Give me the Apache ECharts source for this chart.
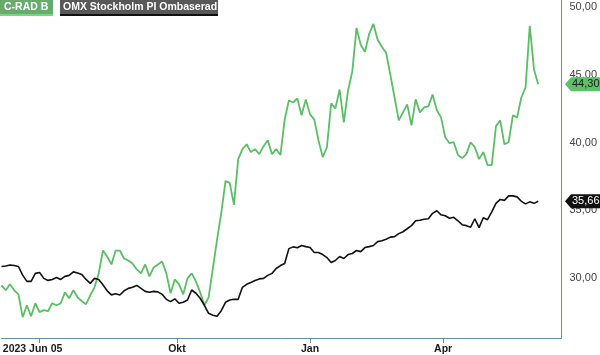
<!DOCTYPE html>
<html>
<head>
<meta charset="utf-8">
<script src="https://cdn.jsdelivr.net/npm/echarts@6/dist/echarts.min.js"></script>
<style>
html, body { margin: 0; padding: 0; background: #fff; }
#chart { width: 600px; height: 355px; }
</style>
</head>
<body>
<div id="chart"></div>
<script>
// trading days from the first date, Stockholm exchange closed days skipped
const startDate = '2023-06-05';
const dayCount = 266;
const holidays = ['2023-06-06', '2023-06-23', '2023-12-25', '2023-12-26', '2024-01-01',
    '2024-03-29', '2024-04-01', '2024-05-01', '2024-05-09', '2024-06-06', '2024-06-21'];

const tickDates = ['2023-07-03', '2023-10-02', '2024-01-02', '2024-04-02'];
const tickLabels = ['2023 Jun 05', 'Okt', 'Jan', 'Apr'];
const yTicks = [30, 35, 40, 45, 50];

// one value every second trading day
const sampleStep = 2;
const cradValues = [
    29.43, 29.07, 29.51, 29.07, 28.77, 27.08, 27.96, 27.15, 28.11, 27.45,
    27.60, 27.52, 28.11, 27.96, 28.11, 28.92, 28.48, 29.07, 28.55, 28.26,
    28.04, 28.70, 29.29, 30.32, 32.01, 31.57, 30.98, 32.01, 32.01, 31.42,
    31.27, 31.05, 30.61, 30.32, 30.98, 30.10, 30.76, 30.98, 31.20, 30.32,
    28.85, 29.87, 29.51, 28.77, 29.95, 30.32, 29.73, 28.92, 27.96, 28.55,
    30.68, 32.82, 34.80, 37.15, 37.01, 35.39, 38.77, 39.51, 39.87, 39.29,
    39.51, 39.14, 39.73, 40.17, 39.14, 39.51, 39.07, 41.71, 43.11, 42.96,
    43.26, 42.01, 43.19, 42.08, 41.71, 40.17, 38.92, 39.65, 42.89, 42.52,
    43.92, 41.49, 43.85, 45.24, 48.48, 47.23, 46.71, 48.04, 48.77, 47.60,
    47.08, 46.64, 45.02, 43.33, 41.64, 42.23, 42.82, 41.27, 43.19, 42.23,
    42.60, 42.67, 43.55, 42.38, 41.86, 40.39, 39.95, 40.02, 39.07, 38.85,
    39.14, 40.02, 39.65, 38.77, 39.29, 38.33, 38.33, 41.20, 41.64, 39.87,
    40.02, 42.01, 41.86, 43.33, 44.07, 48.63, 45.39, 44.30
];
const omxValues = [
    30.83, 30.87, 30.94, 30.90, 30.83, 30.19, 29.73, 29.73, 30.32, 30.39,
    29.95, 29.80, 29.87, 30.02, 29.87, 30.10, 30.17, 30.43, 30.35, 30.24,
    29.87, 29.58, 29.95, 29.87, 29.47, 29.03, 28.73, 28.81, 28.72, 29.03,
    29.21, 29.29, 29.43, 29.21, 28.99, 28.92, 28.99, 28.95, 28.77, 28.40,
    28.23, 28.44, 28.11, 28.18, 28.35, 29.09, 28.85, 28.48, 27.96, 27.37,
    27.23, 27.15, 27.56, 28.18, 28.35, 28.40, 28.40, 29.29, 29.51, 29.65,
    29.80, 29.91, 29.95, 30.17, 30.32, 30.68, 30.90, 31.05, 32.15, 32.28,
    32.21, 32.38, 32.30, 32.23, 31.86, 31.86, 31.71, 31.49, 31.12, 31.27,
    31.57, 31.42, 31.71, 31.79, 32.01, 31.93, 32.23, 32.30, 32.38, 32.67,
    32.74, 32.85, 33.00, 33.04, 33.26, 33.40, 33.62, 33.85, 34.21, 34.25,
    34.32, 34.36, 34.76, 34.95, 34.65, 34.58, 34.40, 34.47, 34.21, 33.92,
    33.85, 33.74, 34.36, 33.70, 34.43, 34.29, 34.87, 35.50, 35.79, 35.72,
    36.05, 36.05, 35.98, 35.65, 35.46, 35.61, 35.50, 35.66
];

const green = '#5cbd67';
const black = '#111111';
const frame = '#5b93b6';
const fontName = 'Liberation Sans, Arial, sans-serif';

function tradingDays(start, count) {
    const out = [];
    const d = new Date(start + 'T00:00:00Z');
    while (out.length < count) {
        const s = d.toISOString().slice(0, 10);
        const wd = d.getUTCDay();
        if (wd !== 0 && wd !== 6 && holidays.indexOf(s) < 0) out.push(s);
        d.setUTCDate(d.getUTCDate() + 1);
    }
    return out;
}

function toPairs(values) {
    return values.map(function (v, i) { return [dates[i * sampleStep], v]; });
}

function comma(v) {
    return v.toFixed(2).replace('.', ',');
}

const dates = tradingDays(startDate, dayCount);

const chart = echarts.init(document.getElementById('chart'));

const option = {
    animation: false,
    backgroundColor: '#fff',
    grid: { left: -3, right: 35.5, top: 0, bottom: 15 },
    xAxis: {
        type: 'category',
        data: dates,
        boundaryGap: false,
        axisLine: { show: true, lineStyle: { color: frame, width: 1 } },
        axisTick: {
            show: true,
            length: 5,
            lineStyle: { color: frame },
            interval: function (i, v) { return tickDates.indexOf(v) >= 0; }
        },
        axisLabel: {
            interval: function (i, v) { return tickDates.indexOf(v) >= 0; },
            margin: 6,
            color: '#1a1a1a',
            fontFamily: fontName,
            fontSize: 10.5,
            fontWeight: 'bold',
            formatter: function (v) {
                const k = tickDates.indexOf(v);
                if (k === 0) return '{first|' + tickLabels[0] + '}';
                return tickLabels[k];
            },
            rich: {
                first: {
                    fontFamily: fontName,
                    fontSize: 10.5,
                    fontWeight: 'bold',
                    color: '#1a1a1a',
                    padding: [0, 14, 0, 0]
                }
            }
        },
        splitLine: { show: false }
    },
    yAxis: {
        type: 'value',
        position: 'right',
        min: 25.54,
        max: 50.54,
        axisLine: { show: true, lineStyle: { color: frame, width: 1 } },
        axisTick: { show: false },
        splitLine: { show: false },
        axisLabel: {
            customValues: yTicks,
            margin: 8,
            color: '#444',
            fontFamily: fontName,
            fontSize: 11,
            formatter: function (v) { return comma(v); }
        }
    },
    series: [
        {
            name: 'OMX Stockholm PI Ombaserad',
            type: 'line',
            data: toPairs(omxValues),
            showSymbol: false,
            lineStyle: { color: black, width: 1.6 },
            z: 3
        },
        {
            name: 'C-RAD B',
            type: 'line',
            data: toPairs(cradValues),
            showSymbol: false,
            lineStyle: { color: green, width: 1.8 },
            z: 2
        }
    ]
};
chart.setOption(option);

function tag(value, bg, fg) {
    const y = chart.convertToPixel({ yAxisIndex: 0 }, value);
    const x = 565;
    return [
        {
            type: 'polygon',
            z: 50,
            shape: { points: [[x, y], [x + 6, y - 7], [600, y - 7], [600, y + 7], [x + 6, y + 7]] },
            style: { fill: bg }
        },
        {
            type: 'text',
            z: 51,
            x: x + 7,
            y: y,
            style: {
                text: comma(value),
                fill: fg,
                font: '11px ' + fontName,
                verticalAlign: 'middle'
            }
        }
    ];
}

const legend = [
    { type: 'rect', z: 40, shape: { x: 0, y: 0, width: 53, height: 14 }, style: { fill: '#68ab6d' } },
    { type: 'rect', z: 40, shape: { x: 0, y: 14, width: 53, height: 2 }, style: { fill: '#6fdc79' } },
    {
        type: 'text', z: 41, x: 4, y: 7,
        style: { text: 'C-RAD B', fill: '#fff', font: 'bold 10.5px ' + fontName, verticalAlign: 'middle' }
    },
    { type: 'rect', z: 40, shape: { x: 60, y: 0, width: 158, height: 14 }, style: { fill: '#585858' } },
    { type: 'rect', z: 40, shape: { x: 60, y: 14, width: 158, height: 2 }, style: { fill: '#111' } },
    {
        type: 'text', z: 41, x: 63, y: 7,
        style: { text: 'OMX Stockholm PI Ombaserad', fill: '#fff', font: 'bold 10.5px ' + fontName, verticalAlign: 'middle' }
    }
];

chart.setOption({
    graphic: legend
        .concat(tag(cradValues[cradValues.length - 1], '#5cc266', '#1b1b1b'))
        .concat(tag(omxValues[omxValues.length - 1], '#111', '#fff'))
});
</script>
</body>
</html>
